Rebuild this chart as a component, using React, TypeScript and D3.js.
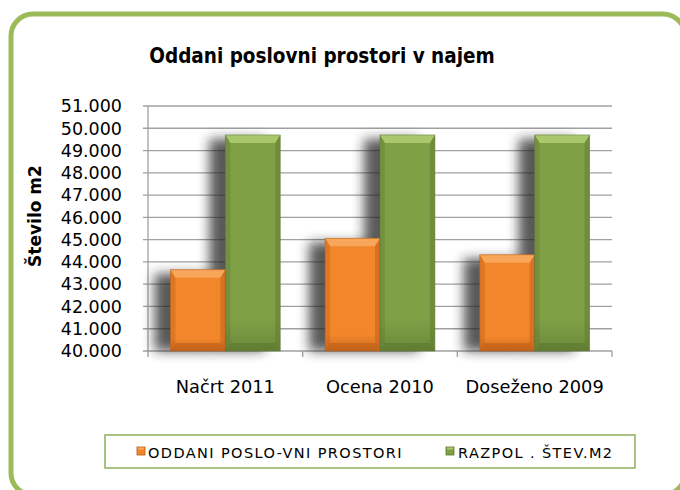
import React from "react";
import * as d3 from "d3";

const categories = ["Načrt 2011", "Ocena 2010", "Doseženo 2009"];
const seriesNames = ["ODDANI POSLO-VNI PROSTORI", "RAZPOL . ŠTEV.M2"];
const oddani = [43650, 45060, 44320];
const razpol = [49700, 49700, 49700];
const yTicks = [40000, 41000, 42000, 43000, 44000, 45000, 46000, 47000, 48000, 49000, 50000, 51000];
const title = "Oddani poslovni prostori v najem";
const yTitle = "Število m2";

const W = 680;
const H = 490;
const plot = { left: 148, right: 612, top: 106, bottom: 351 };

const colors = [
  { base: "#f2862b", light: "#f8a659", dark: "#b85c18", edge: "#d06c1f" },
  { base: "#80a046", light: "#a9c86c", dark: "#5b7530", edge: "#6c8a3a" },
];

const locale = d3.formatLocale({ decimal: ",", thousands: ".", grouping: [3], currency: ["", ""] });
const fmt = locale.format(",.0f");

function Bar({ x, y, w, h, c, id }: { x: number; y: number; w: number; h: number; c: typeof colors[0]; id: string }) {
  const b = Math.min(8, h / 3);
  const s = 5;
  return (
    <g>
      <rect x={x} y={y} width={w} height={h} fill={`url(#${id})`} />
      <polygon points={`${x},${y} ${x + w},${y} ${x + w - s},${y + b} ${x + s},${y + b}`} fill={c.light} />
      <polygon points={`${x},${y + h} ${x + w},${y + h} ${x + w - s},${y + h - b} ${x + s},${y + h - b}`} fill={c.dark} opacity={0.55} />
      <polygon points={`${x},${y} ${x + s},${y + b} ${x + s},${y + h - b} ${x},${y + h}`} fill={c.dark} opacity={0.35} />
      <polygon points={`${x + w},${y} ${x + w - s},${y + b} ${x + w - s},${y + h - b} ${x + w},${y + h}`} fill={c.dark} opacity={0.45} />
      <rect x={x} y={y} width={w} height={h} fill="none" stroke={c.dark} strokeWidth={0.8} opacity={0.6} />
    </g>
  );
}

export default function App() {
  const x0 = d3.scaleBand<string>().domain(categories).range([plot.left, plot.right]).paddingInner(0.29).paddingOuter(0.145);
  const x1 = d3.scaleBand<number>().domain([0, 1]).range([0, x0.bandwidth()]).padding(0);
  const y = d3.scaleLinear().domain([40000, 51000]).range([plot.bottom, plot.top]);
  const series = [oddani, razpol];
  const step = x0.step();
  const boundaries = [0, 1, 2, 3].map((i) => plot.left + i * step);

  return (
    <svg width={W} height={H} style={{ position: "absolute", left: 0, top: 0, background: "#fff" }}>
      <defs>
        {colors.map((c, i) => (
          <linearGradient key={i} id={`g${i}`} x1="0" y1="0" x2="0" y2="1">
            <stop offset="0" stopColor={c.base} />
            <stop offset="0.85" stopColor={c.base} />
            <stop offset="1" stopColor={c.edge} />
          </linearGradient>
        ))}
        <filter id="shadow" x="-50%" y="-20%" width="200%" height="140%">
          <feGaussianBlur stdDeviation="6" />
        </filter>
      </defs>
      <rect x={11} y={14} width={674} height={481} rx={22} ry={22} fill="#fff" stroke="#9bbb59" strokeWidth={5} />

      <text x={322} y={63} textAnchor="middle" fontFamily="DejaVu Sans Condensed" fontWeight="bold" fontSize={20.5} fill="#000">
        {title}
      </text>

      {/* gridlines */}
      {yTicks.map((t) => (
        <line key={t} x1={plot.left - 5} x2={plot.right} y1={y(t)} y2={y(t)} stroke="#a0a0a0" strokeWidth={1.3} />
      ))}
      <line x1={plot.left} x2={plot.left} y1={plot.top} y2={plot.bottom} stroke="#a0a0a0" strokeWidth={1.3} />
      {boundaries.map((bx, i) => (
        <line key={i} x1={bx} x2={bx} y1={plot.bottom} y2={plot.bottom + 6} stroke="#a0a0a0" strokeWidth={1.3} />
      ))}

      {/* y tick labels */}
      {yTicks.map((t) => (
        <text key={t} x={122} y={y(t)} dy="0.36em" textAnchor="end" fontFamily="DejaVu Sans" fontSize={17.5} fill="#000">
          {fmt(t)}
        </text>
      ))}
      <text
        transform={`translate(41,216) rotate(-90)`}
        textAnchor="middle"
        fontFamily="DejaVu Sans"
        fontWeight="bold"
        fontSize={17}
        fill="#000"
      >
        {yTitle}
      </text>

      {/* shadows */}
      <g filter="url(#shadow)" opacity={0.75}>
        {categories.map((c, ci) =>
          series.map((s, si) => (
            <rect
              key={`${ci}-${si}`}
              x={(x0(c) as number) + (x1(si) as number) - 16}
              y={y(s[ci]) + 4}
              width={x1.bandwidth()}
              height={plot.bottom - y(s[ci]) - 4}
              fill="#222"
            />
          ))
        )}
      </g>

      {/* bars */}
      {series.map((s, si) =>
        categories.map((c, ci) => (
          <Bar
            key={`${si}-${ci}`}
            id={`g${si}`}
            x={(x0(c) as number) + (x1(si) as number)}
            y={y(s[ci])}
            w={x1.bandwidth()}
            h={plot.bottom - y(s[ci])}
            c={colors[si]}
          />
        ))
      )}

      {/* category labels */}
      {categories.map((c) => (
        <text key={c} x={(x0(c) as number) + x0.bandwidth() / 2} y={393} textAnchor="middle" fontFamily="DejaVu Sans" fontSize={17.8} fill="#000">
          {c}
        </text>
      ))}

      {/* legend */}
      <rect x={105} y={435} width={530} height={33} fill="#fff" stroke="#8fb05a" strokeWidth={1.5} />
      {[
        { sx: 137, tx: 148 },
        { sx: 446, tx: 458 },
      ].map((p, i) => (
        <g key={i}>
          <rect x={p.sx} y={447} width={8} height={8} fill={colors[i].base} stroke={colors[i].dark} strokeWidth={0.8} />
          <rect x={p.sx + 1} y={447.5} width={6} height={2} fill={colors[i].light} />
          <text x={p.tx} y={457.5} fontFamily="DejaVu Sans" fontSize={14.5} letterSpacing={1.4} fill="#000">
            {seriesNames[i]}
          </text>
        </g>
      ))}
    </svg>
  );
}
